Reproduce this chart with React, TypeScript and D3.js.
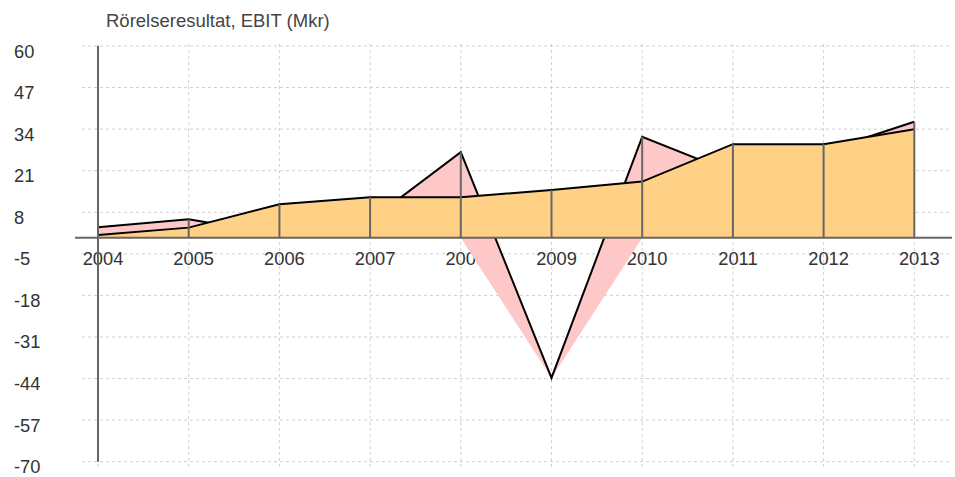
import React from "react";
import * as d3 from "d3";

// EBIT per year, two series (Mkr)
const years = [2004, 2005, 2006, 2007, 2008, 2009, 2010, 2011, 2012, 2013];
const seriesA = [3.3, 5.8, 1, 5.4, 26.8, -43.8, 31.6, 20.3, 27, 36.3];
const seriesB = [0.9, 3.2, 10.5, 12.7, 12.7, 15.0, 17.6, 29.3, 29.3, 34.0];
const yTicks = [60, 47, 34, 21, 8, -5, -18, -31, -44, -57, -70];
const title = "Rörelseresultat, EBIT (Mkr)";

const W = 955;
const H = 477;

export default function App() {
  const x = d3.scaleLinear().domain([2004, 2013]).range([98, 914.3]);
  const y = d3.scaleLinear().domain([-70, 60]).range([461.7, 46]);

  const rows = years.map((yr, i) => ({ yr, a: seriesA[i], b: seriesB[i] }));

  // pink: from min(a,0) up to a
  const pinkArea = d3.area<any>()
    .x(d => x(d.yr))
    .y0(d => y(Math.min(d.a, 0)))
    .y1(d => y(d.a));
  const lineA = d3.line<any>().x(d => x(d.yr)).y(d => y(d.a));

  const orangeArea = d3.area<any>()
    .x(d => x(d.yr))
    .y0(y(0))
    .y1(d => y(d.b));
  const lineB = d3.line<any>().x(d => x(d.yr)).y(d => y(d.b));

  const font = "Arial, 'Liberation Sans', Helvetica, sans-serif";

  return (
    <svg width={W} height={H} style={{ position: "absolute", left: 0, top: 0, background: "#fff" }}>
      {/* grid */}
      <g stroke="#cfcfcf" strokeWidth={1} strokeDasharray="3,3">
        {yTicks.map(t => (
          <line key={"h" + t} x1={82} x2={952} y1={y(t)} y2={y(t)} />
        ))}
        {years.map(yr => (
          <line key={"v" + yr} x1={x(yr)} x2={x(yr)} y1={44} y2={467} />
        ))}
      </g>

      {/* labels sit under the areas */}
      <g fill="#333" fontFamily={font} fontSize={18.3}>
        {yTicks.map(t => (
          <text key={"yl" + t} x={14} y={y(t) + 11.5}>{t}</text>
        ))}
        {years.map(yr => (
          <text key={"xl" + yr} x={x(yr) + 5} y={264.5} textAnchor="middle">{yr}</text>
        ))}
      </g>

      <path d={pinkArea(rows) || ""} fill="#ffc8c8" />
      <path d={lineA(rows) || ""} fill="none" stroke="#000" strokeWidth={2} />

      <path d={orangeArea(rows) || ""} fill="#fed186" />
      <path d={lineB(rows) || ""} fill="none" stroke="#000" strokeWidth={2} />

      {/* drop lines */}
      <g stroke="#666" strokeWidth={2}>
        {rows.slice(1).map(d => (
          <line key={"d" + d.yr} x1={x(d.yr)} x2={x(d.yr)} y1={y(0)} y2={y(Math.max(d.a, d.b, 0))} />
        ))}
      </g>

      {/* axes */}
      <line x1={75} x2={952} y1={y(0)} y2={y(0)} stroke="#666" strokeWidth={2} />
      <line x1={x(2004)} x2={x(2004)} y1={y(60)} y2={y(-70)} stroke="#666" strokeWidth={2} />

      <text x={106} y={27} fill="#444" fontFamily={font} fontSize={18.5}>{title}</text>
    </svg>
  );
}
